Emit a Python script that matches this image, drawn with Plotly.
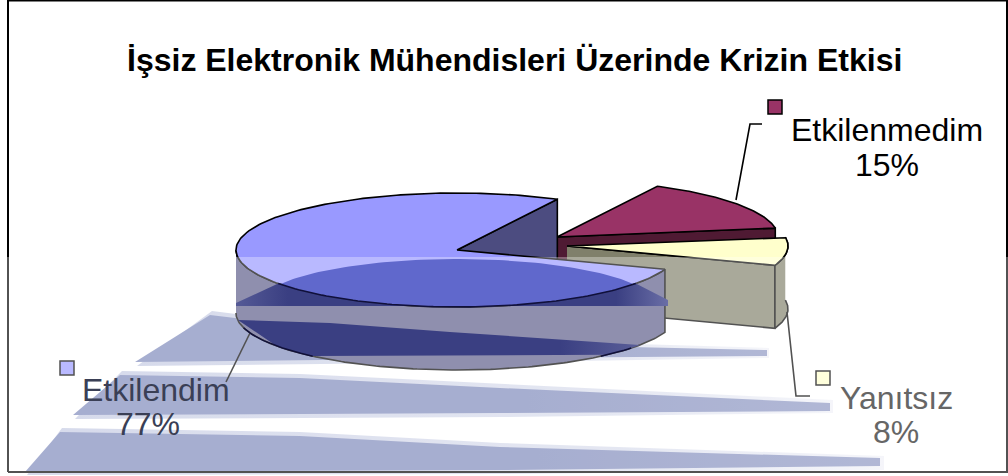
import numpy as np
import plotly.graph_objects as go

title = "İşsiz Elektronik Mühendisleri Üzerinde Krizin Etkisi"
categories = ["Etkilendim", "Etkilenmedim", "Yanıtsız"]
values = [77, 15, 8]

RX, RY, DEPTH = 221, 57, 63
START = 63
centers = [(457, 250), (557, 237), (567, 246)]
tops = ["#9999FF", "#993366", "#FFFFCC"]
walls = ["#4C4C80", "#4F1A33", "#80806B"]
outer_wall = "#5A5A88"
EDGE = "#000000"
CLEAR = "rgba(0,0,0,0)"

fig = go.Figure()


def poly(xs, ys, fill, line=EDGE, width=1.6, gradient=None):
    kw = dict(x=list(xs), y=list(ys), mode="lines", fill="toself", hoverinfo="skip",
              showlegend=False, line=dict(color=line, width=width))
    if gradient:
        kw["fillgradient"] = gradient
    else:
        kw["fillcolor"] = fill
    fig.add_trace(go.Scatter(**kw))


def path(xs, ys, color=EDGE, width=1.6):
    fig.add_trace(go.Scatter(x=list(xs), y=list(ys), mode="lines", hoverinfo="skip",
                             showlegend=False, line=dict(color=color, width=width)))


def arc(c, a0, a1, n=90, dy=0):
    t = np.radians(np.linspace(a0, a1, n))
    return c[0] + RX * np.cos(t), c[1] + dy - RY * np.sin(t)


# slice angles come from the values (clockwise, as in the chart)
a2_start = START
a2_end = a2_start - values[1] * 3.6
a3_start = a2_end
a3_end = a3_start - values[2] * 3.6
a1_start = START
a1_end = START + values[0] * 3.6

# background stripes (soft outer part, then solid part)
stripe_soft = [
    ([212, 137, 500, 769, 769, 500, 300], [311, 366, 362, 358, 348, 340, 322]),
    ([122, 75, 500, 833, 833, 500, 300], [371, 419, 417, 413, 400, 384, 374]),
    ([62, 27, 500, 884, 884, 500, 300], [428, 475, 474, 470, 456, 443, 432]),
]
stripe_core = [
    ([210, 135, 500, 767, 767, 500, 300], [315, 362, 358, 356, 350, 344, 326]),
    ([120, 73, 500, 830, 830, 500, 300], [375, 415, 413, 411, 403, 388, 378]),
    ([60, 25, 500, 880, 880, 500, 300], [432, 472, 470, 466, 458, 447, 436]),
]
soft_grad = dict(type="horizontal", colorscale=[[0, "#C3C9E2"], [0.7, "#D8DCEC"], [1, "#F0F1F8"]])
core_grad = dict(type="horizontal", colorscale=[[0, "#7D88BA"], [0.6, "#7D88BA"], [1, "#8C96C2"]])
for xs, ys in stripe_soft:
    poly(xs, ys, None, line=CLEAR, width=0, gradient=soft_grad)
for xs, ys in stripe_core:
    poly(xs, ys, None, line=CLEAR, width=0, gradient=core_grad)

# Etkilenmedim
c = centers[1]
x, y = arc(c, a2_start, a2_end)
poly([c[0], x[-1], x[-1], c[0]], [c[1], y[-1], y[-1] + DEPTH, c[1] + DEPTH], walls[1])
poly(np.r_[c[0], x, c[0]], np.r_[c[1], y, c[1]], tops[1])

# Yanıtsız
c = centers[2]
x, y = arc(c, a3_start, a3_end)
poly([c[0], x[-1], x[-1], c[0]], [c[1], y[-1], y[-1] + DEPTH, c[1] + DEPTH], walls[2])
poly(np.r_[x, x[::-1]], np.r_[y, y[::-1] + DEPTH], walls[2])
poly(np.r_[c[0], x, c[0]], np.r_[c[1], y, c[1]], tops[2])

# Etkilendim
c = centers[0]
x, y = arc(c, a1_start, a1_end, n=240)
poly([c[0], x[0], x[0], c[0]], [c[1], y[0], y[0] + DEPTH, c[1] + DEPTH], walls[0])
fx, fy = arc(c, 180, a1_end, n=160)
poly(np.r_[fx, fx[::-1]], np.r_[fy, fy[::-1] + DEPTH], outer_wall)
poly(np.r_[c[0], x, c[0]], np.r_[c[1], y, c[1]], tops[0])

# leader lines
path([736, 750, 762], [200, 124, 124])
path([787, 796, 810], [312, 396, 396])
path([250, 226], [333, 382])

# legend keys
keys_x = [67, 775, 823]
keys_y = [368, 107, 378]
fig.add_trace(go.Scatter(x=keys_x, y=keys_y, mode="markers", hoverinfo="skip", showlegend=False,
                         marker=dict(symbol="square", size=14, color=tops,
                                     line=dict(color=EDGE, width=1.5))))

# frame
path([8, 8, 1007, 1007, 8], [472, 0.5, 0.5, 472, 472], width=2)

# translucent veil over the lower half
poly([0, 1008, 1008, 0], [257, 257, 476, 476], "rgba(255,255,255,0.32)", line=CLEAR, width=0)

# reflection on the disc
c = centers[0]
dt = np.radians(np.linspace(153, 27, 80))
dome_x = c[0] + 200 * np.cos(dt)
dome_y = 306 - 47 * np.sin(dt)
rim_x, rim_y = arc(c, 216, 324, n=80)
poly(np.r_[dome_x, rim_x[::-1]], np.r_[dome_y, rim_y[::-1]], "#6068CC", line=CLEAR, width=0)
poly(np.r_[236, 236, rim_x, 668, 668], np.r_[306, 303, rim_y, 300, 306], None, line=CLEAR, width=0,
     gradient=dict(type="horizontal", colorscale=[[0, "#555A96"], [0.12, "#3A3F82"], [0.88, "#3A3F82"], [1, "#6A6EA6"]]))
low_x, low_y = arc(c, 215, 318, n=60, dy=DEPTH)
keep = low_y <= 356
poly(np.r_[238, 330, 450, 640, low_x[keep][::-1], 238],
     np.r_[320, 323, 332, 345, low_y[keep][::-1], 320], None, line=CLEAR, width=0,
     gradient=dict(type="horizontal", colorscale=[[0, "#3A3F82"], [0.8, "#3A3F82"], [1, "#5A5E98"]]))
path(rim_x, rim_y, "#10103A")
lx, ly = arc(c, 195, 322, n=90, dy=DEPTH)
mask = ly <= 357
path(lx[mask & (lx < 457)], ly[mask & (lx < 457)], "#10103A")
path(lx[mask & (lx > 457)], ly[mask & (lx > 457)], "#10103A")

LABEL = 32
ann = [
    dict(x=514, y=60, text="<b>" + title + "</b>", font=dict(size=32, color="#000000")),
    dict(x=887, y=130, text=categories[1], font=dict(size=LABEL, color="#000000")),
    dict(x=887, y=165, text=f"{values[1]}%", font=dict(size=LABEL, color="#000000")),
    dict(x=896, y=398, text=categories[2], font=dict(size=LABEL, color="#666666")),
    dict(x=896, y=432, text=f"{values[2]}%", font=dict(size=LABEL, color="#666666")),
    dict(x=156, y=390, text=categories[0], font=dict(size=LABEL, color="#3A3F55")),
    dict(x=148, y=424, text=f"{values[0]}%", font=dict(size=LABEL, color="#3A3F55")),
]
for d in ann:
    d.update(xref="x", yref="y", showarrow=False, align="center", xanchor="center", yanchor="middle")
    d["font"]["family"] = "Liberation Sans"

fig.update_layout(
    width=1008, height=476, margin=dict(l=0, r=0, t=0, b=0),
    paper_bgcolor="#FFFFFF", plot_bgcolor="#FFFFFF", showlegend=False,
    xaxis=dict(range=[0, 1008], visible=False, fixedrange=True),
    yaxis=dict(range=[476, 0], visible=False, fixedrange=True),
    annotations=ann,
)
fig.write_html("out.html", config={"displayModeBar": False},
               post_script="document.body.style.margin='0';document.body.style.overflow='hidden';")
